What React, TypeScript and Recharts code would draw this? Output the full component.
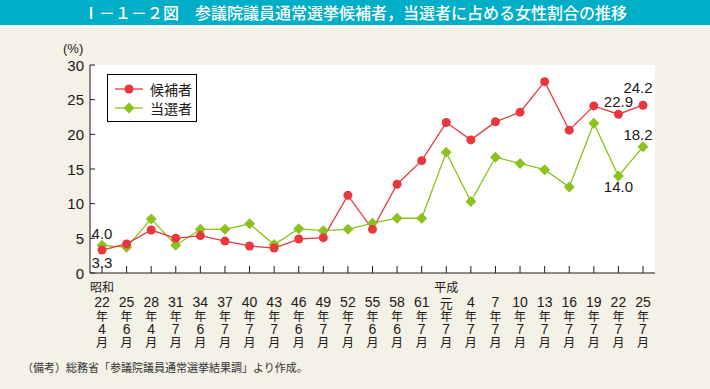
import React from "react";
import { LineChart, Line, XAxis, YAxis, CartesianGrid, LabelList } from "recharts";

// 参議院議員通常選挙 — women's share of candidates / winners (%)
const eraLabels = ["昭和", "", "", "", "", "", "", "", "", "", "", "", "", "", "平成", "", "", "", "", "", "", "", ""];
const yearLabels = ["22", "25", "28", "31", "34", "37", "40", "43", "46", "49", "52", "55", "58", "61", "元", "4", "7", "10", "13", "16", "19", "22", "25"];
const monthLabels = ["4", "6", "4", "7", "6", "7", "7", "7", "6", "7", "7", "6", "6", "7", "7", "7", "7", "7", "7", "7", "7", "7", "7"];
const candidates = [3.3, 4.2, 6.2, 5.0, 5.4, 4.6, 3.9, 3.6, 4.9, 5.1, 11.2, 6.3, 12.8, 16.2, 21.7, 19.2, 21.8, 23.2, 27.6, 20.6, 24.1, 22.9, 24.2];
const elected = [4.0, 3.7, 7.8, 4.0, 6.3, 6.3, 7.1, 4.1, 6.4, 6.1, 6.3, 7.2, 7.9, 7.9, 17.4, 10.3, 16.7, 15.8, 14.9, 12.4, 21.6, 14.0, 18.2];
const yTicks = [0, 5, 10, 15, 20, 25, 30];

const RED = "#e8383d";
const GREEN = "#8cc21f";
const INK = "#231815";
const NUM_FONT = "'Liberation Sans', Arial, sans-serif";
const JP_FONT = "'Noto Sans CJK JP', sans-serif";

const data = yearLabels.map((y, i) => ({
  key: `${y}年${monthLabels[i]}月`,
  candidates: candidates[i],
  elected: elected[i],
}));

// labels shown only on a few points: [dx, dy]
const redLabels: Record<number, [number, number]> = { 0: [0, 12], 21: [0, -13], 22: [-5, -18] };
const greenLabels: Record<number, [number, number]> = { 0: [0, -12], 21: [0, 11], 22: [-5, -12] };

function makeLabel(table: Record<number, [number, number]>) {
  return (props: any) => {
    const { x, y, value, index } = props;
    const off = table[index];
    if (!off) return null;
    return (
      <text x={x + off[0]} y={y + off[1]} textAnchor="middle" dominantBaseline="central"
        fontSize={15} fontFamily={NUM_FONT} fill={INK}>
        {Number(value).toFixed(1)}
      </text>
    );
  };
}

function XTick(props: any) {
  const { x, y, index } = props;
  const isGan = yearLabels[index] === "元";
  return (
    <g>
      <line x1={x} x2={x} y1={y} y2={y - 7} stroke={INK} strokeWidth={1} />
      {eraLabels[index] && (
        <text x={x} y={y + 13} textAnchor="middle" dominantBaseline="central" fontSize={12} fontFamily={JP_FONT} fill={INK}>
          {eraLabels[index]}
        </text>
      )}
      <text x={x} y={y + 29} textAnchor="middle" dominantBaseline="central" fontSize={isGan ? 13 : 14}
        fontFamily={isGan ? JP_FONT : NUM_FONT} fill={INK}>
        {yearLabels[index]}
      </text>
      <text x={x} y={y + 42} textAnchor="middle" dominantBaseline="central" fontSize={12} fontFamily={JP_FONT} fill={INK}>年</text>
      <text x={x} y={y + 56} textAnchor="middle" dominantBaseline="central" fontSize={14} fontFamily={NUM_FONT} fill={INK}>
        {monthLabels[index]}
      </text>
      <text x={x} y={y + 68} textAnchor="middle" dominantBaseline="central" fontSize={12} fontFamily={JP_FONT} fill={INK}>月</text>
    </g>
  );
}

function YTick(props: any) {
  const { x, y, payload } = props;
  return (
    <g>
      <line x1={x} x2={x + 5} y1={y} y2={y} stroke={INK} strokeWidth={1} />
      <text x={x - 6} y={y} textAnchor="end" dominantBaseline="central" fontSize={15} fontFamily={NUM_FONT} fill={INK}>
        {payload.value}
      </text>
    </g>
  );
}

function Diamond(props: any) {
  const { cx, cy } = props;
  if (cx == null || cy == null) return null;
  const r = 5.5;
  return <path d={`M${cx},${cy - r}L${cx + r},${cy}L${cx},${cy + r}L${cx - r},${cy}Z`} fill={GREEN} />;
}

function LegendBox() {
  const row = (label: string, color: string, diamond: boolean) => (
    <div style={{ display: "flex", alignItems: "center", height: 19 }}>
      <svg width={30} height={12} style={{ marginRight: 6 }}>
        <line x1={1} x2={29} y1={6} y2={6} stroke={color} strokeWidth={1.3} />
        {diamond ? <path d="M15,0.5L20.5,6L15,11.5L9.5,6Z" fill={color} /> : <circle cx={15} cy={6} r={4.5} fill={color} />}
      </svg>
      <span style={{ fontFamily: JP_FONT, fontSize: 14, color: INK }}>{label}</span>
    </div>
  );
  return (
    <div style={{ position: "absolute", left: 107, top: 74, width: 82, height: 42, border: "1px solid #000",
      background: "#fff", padding: "4px 0 0 6px", lineHeight: 1 }}>
      {row("候補者", RED, false)}
      {row("当選者", GREEN, true)}
    </div>
  );
}

export default function App() {
  return (
    <div style={{ position: "absolute", left: 0, top: 0, width: 710, height: 389, background: "#f4f1e6", overflow: "hidden" }}>
      <div style={{ position: "absolute", left: 0, top: 0, width: 710, height: 28, background: "#00aec8",
        borderBottom: "3px solid #fff", color: "#fff", fontFamily: JP_FONT, fontSize: 16, fontWeight: 500,
        lineHeight: "25px", paddingLeft: 83, boxSizing: "border-box", whiteSpace: "nowrap" }}>
        Ⅰ－１－２図　参議院議員通常選挙候補者，当選者に占める女性割合の推移
      </div>
      <div style={{ position: "absolute", left: 63, top: 41, fontFamily: NUM_FONT, fontSize: 13, color: INK }}>(%)</div>
      <div style={{ position: "absolute", left: 0, top: 0 }}>
        <LineChart width={710} height={389} data={data} margin={{ top: 65, right: 55, bottom: 0, left: 0 }}>
          <CartesianGrid horizontal={false} vertical={false} fill="#fff" />
          <XAxis dataKey="key" height={116} interval={0} padding={{ left: 12, right: 12 }} tickSize={0} tickMargin={0}
            tickLine={false} axisLine={{ stroke: INK }} tick={<XTick />} />
          <XAxis xAxisId="top" orientation="top" height={0} tick={false} tickLine={false} axisLine={{ stroke: INK }} />
          <YAxis width={90} domain={[0, 30]} ticks={yTicks} tickSize={0} tickMargin={0} tickLine={false}
            axisLine={{ stroke: INK }} tick={<YTick />} />
          <YAxis yAxisId="right" orientation="right" width={0} domain={[0, 30]} tick={false} tickLine={false}
            axisLine={{ stroke: INK }} />
          <Line dataKey="elected" name="当選者" stroke={GREEN} strokeWidth={1.3} dot={<Diamond />} isAnimationActive={false}>
            <LabelList dataKey="elected" content={makeLabel(greenLabels)} />
          </Line>
          <Line dataKey="candidates" name="候補者" stroke={RED} strokeWidth={1.3} dot={{ r: 4.5, fill: RED, stroke: "none" }}
            isAnimationActive={false}>
            <LabelList dataKey="candidates" content={makeLabel(redLabels)} />
          </Line>
        </LineChart>
      </div>
      <LegendBox />
      <div style={{ position: "absolute", left: 22, top: 359, fontFamily: JP_FONT, fontSize: 11, color: "#333" }}>
        （備考）総務省「参議院議員通常選挙結果調」より作成。
      </div>
    </div>
  );
}
